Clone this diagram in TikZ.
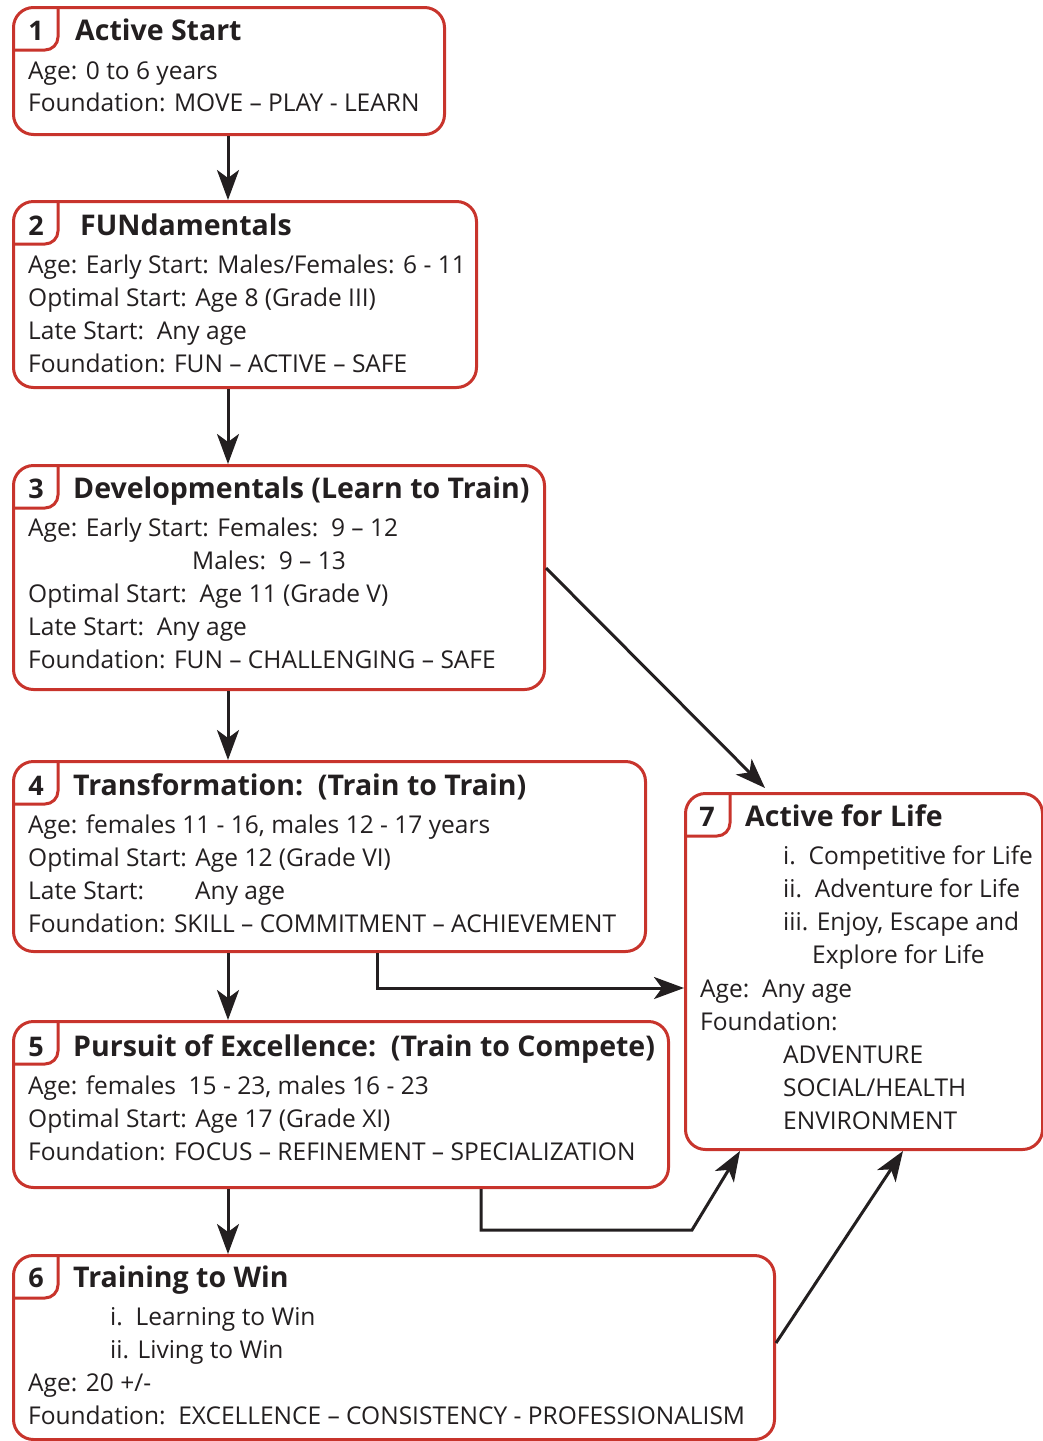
\documentclass[tikz,border=0pt]{standalone}
\usepackage{fontspec}
\setmainfont{Open Sans}
\usetikzlibrary{arrows.meta}
\definecolor{boxred}{RGB}{200,52,44}
\definecolor{ink}{RGB}{35,31,32}
\begin{document}
\begin{tikzpicture}[x=1pt,y=-1pt,
  stage/.style={draw=boxred,line width=3pt,rounded corners=20pt,fill=white,
    anchor=north west,inner sep=0pt},
  tabline/.style={draw=boxred,line width=3pt,rounded corners=13pt},
  num/.style={font=\fontsize{27}{30}\selectfont\bfseries,text=ink,anchor=base,
    inner sep=0pt,yshift=-10pt},
  ttl/.style={font=\fontsize{28.5}{32}\selectfont\bfseries,text=ink,anchor=base west,
    inner sep=0pt,yshift=-10pt},
  txt/.style={font=\fontsize{24.5}{28}\selectfont,text=ink,anchor=base west,
    inner sep=0pt,yshift=-9pt},
  arr/.style={draw=ink,line width=3pt,-{Stealth[length=30pt,width=22pt,inset=8pt]}},
]
\useasboundingbox (0,0) rectangle (1042,1441);

% stage boxes
\node[stage,minimum width=431pt,minimum height=127pt] (b1) at (12,6) {};
\node[stage,minimum width=463pt,minimum height=186pt] (b2) at (12,200) {};
\node[stage,minimum width=531pt,minimum height=224pt] (b3) at (12,464) {};
\node[stage,minimum width=632pt,minimum height=190pt] (b4) at (12,760) {};
\node[stage,minimum width=655pt,minimum height=166pt] (b5) at (12,1020) {};
\node[stage,minimum width=761pt,minimum height=184pt] (b6) at (12,1254) {};
\node[stage,minimum width=357pt,minimum height=356pt] (b7) at (684,792) {};

% number tabs
\foreach \b in {b1,b2,b3,b4,b5,b6,b7}{
  \draw[tabline] ([xshift=46pt]\b.north west) -- ([shift={(46pt,-44pt)}]\b.north west)
    -- ([yshift=-44pt]\b.north west);
}

% box 1
\node[num] (n1) at (36,30) {1};
\node[ttl] (t1) at (75,30) {Active Start};
\node[txt] (l11) at (28,70) {Age: 0 to 6 years};
\node[txt] (l12) at (28,102) {Foundation: MOVE – PLAY - LEARN};

% box 2
\node[num] (n2) at (36,225) {2};
\node[ttl] (t2) at (80,225) {FUNdamentals};
\node[txt] (l21) at (28,264) {Age: Early Start: Males/Females: 6 - 11};
\node[txt] (l22) at (28,297) {Optimal Start: Age 8 (Grade III)};
\node[txt] (l23) at (28,330) {Late Start:\ \ Any age};
\node[txt] (l24) at (28,363) {Foundation: FUN – ACTIVE – SAFE};

% box 3
\node[num] (n3) at (36,488) {3};
\node[ttl] (t3) at (73,488) {Developmentals (Learn to Train)};
\node[txt] (l31) at (28,527) {Age: Early Start: Females:\ \ 9 – 12};
\node[txt] (l32) at (192,560) {Males:\ \ 9 – 13};
\node[txt] (l33) at (28,593) {Optimal Start:\ \ Age 11 (Grade V)};
\node[txt] (l34) at (28,626) {Late Start:\ \ Any age};
\node[txt] (l35) at (28,659) {Foundation: FUN – CHALLENGING – SAFE};

% box 4
\node[num] (n4) at (36,785) {4};
\node[ttl] (t4) at (73,785) {Transformation:\ \ (Train to Train)};
\node[txt] (l41) at (28,824) {Age: females 11 - 16, males 12 - 17 years};
\node[txt] (l42) at (28,857) {Optimal Start: Age 12 (Grade VI)};
\node[txt] (l43) at (28,890) {Late Start:};
\node[txt] (l43b) at (195,890) {Any age};
\node[txt] (l44) at (28,923) {Foundation: SKILL – COMMITMENT – ACHIEVEMENT};

% box 5
\node[num] (n5) at (36,1046) {5};
\node[ttl] (t5) at (73,1046) {Pursuit of Excellence:\ \ (Train to Compete)};
\node[txt] (l51) at (28,1085) {Age: females\ \ 15 - 23, males 16 - 23};
\node[txt] (l52) at (28,1118) {Optimal Start: Age 17 (Grade XI)};
\node[txt] (l53) at (28,1151) {Foundation: FOCUS – REFINEMENT – SPECIALIZATION};

% box 6
\node[num] (n6) at (36,1277) {6};
\node[ttl] (t6) at (73,1277) {Training to Win};
\node[txt] (l61) at (110,1316) {i.\ \ Learning to Win};
\node[txt] (l62) at (110,1349) {ii. Living to Win};
\node[txt] (l63) at (28,1382) {Age: 20 +/-};
\node[txt] (l64) at (28,1415) {Foundation:\ \ EXCELLENCE – CONSISTENCY - PROFESSIONALISM};

% box 7
\node[num] (n7) at (707,816) {7};
\node[ttl] (t7) at (745,816) {Active for Life};
\node[txt] (l71) at (783,855) {i.\ \ Competitive for Life};
\node[txt] (l72) at (783,888) {ii.\ \ Adventure for Life};
\node[txt] (l73) at (783,921) {iii. Enjoy, Escape and};
\node[txt] (l74) at (812,954) {Explore for Life};
\node[txt] (l75) at (700,988) {Age:\ \ Any age};
\node[txt] (l76) at (700,1021) {Foundation:};
\node[txt] (l77) at (783,1054) {ADVENTURE};
\node[txt] (l78) at (783,1087) {SOCIAL/HEALTH};
\node[txt] (l79) at (783,1120) {ENVIRONMENT};

% connectors
\coordinate (spine) at (228,0);
\coordinate (c37top) at (765,788);
\coordinate (c37start) at (545,568);
\coordinate (c47) at (377,988);
\coordinate (c57) at (481,1230);
\coordinate (c57bend) at (692,1230);
\coordinate (c57end) at (740,1150);
\coordinate (c67start) at (775,1343);
\coordinate (c67end) at (903,1152);

\draw[arr] (b1.south -| spine) -- (b2.north -| spine);
\draw[arr] (b2.south -| spine) -- (b3.north -| spine);
\draw[arr] (b3.south -| spine) -- (b4.north -| spine);
\draw[arr] (b4.south -| spine) -- (b5.north -| spine);
\draw[arr] (b5.south -| spine) -- (b6.north -| spine);
\draw[arr] (b3.east |- c37start) -- (c37top);
\draw[arr] (b4.south -| c47) |- (b7.west |- c47);
\draw[arr] (b5.south -| c57) |- (c57bend) -- (b7.south -| c57end);
\draw[arr] (b6.east |- c67start) -- (b7.south -| c67end);
\end{tikzpicture}
\end{document}
